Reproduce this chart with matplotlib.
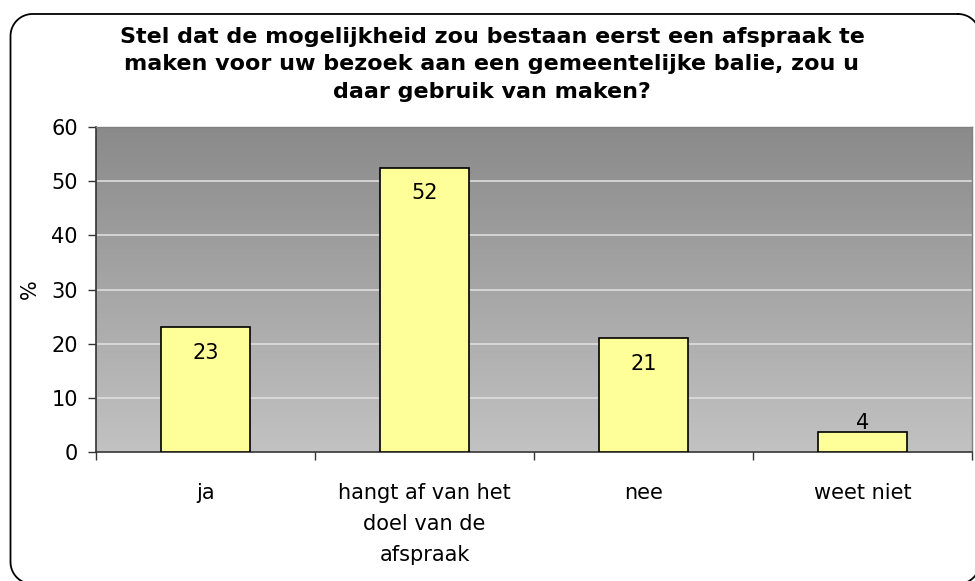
import numpy as np
import matplotlib.pyplot as plt
from matplotlib.colors import LinearSegmentedColormap
from matplotlib.lines import Line2D
from matplotlib.transforms import IdentityTransform

# data
categories = ["ja", "hangt af van het\ndoel van de\nafspraak", "nee", "weet niet"]
heights = [23, 52.5, 21, 3.7]
value_labels = ["23", "52", "21", "4"]
yticks = [0, 10, 20, 30, 40, 50, 60]
title = ("Stel dat de mogelijkheid zou bestaan eerst een afspraak te\n"
         "maken voor uw bezoek aan een gemeentelijke balie, zou u\n"
         "daar gebruik van maken?")

plt.rcParams['font.family'] = ['DejaVu Sans']

W, H = 975, 581
fig = plt.figure(figsize=(W / 100, H / 100), dpi=100)


def rounded_outline(x0, y0, x1, y1, r, n=24):
    # closed outline with round corners, pixel coords measured from the top
    pts = []
    corners = [(x1 - r, y0 + r, -90, 0), (x1 - r, y1 - r, 0, 90),
               (x0 + r, y1 - r, 90, 180), (x0 + r, y0 + r, 180, 270)]
    for cx, cy, a0, a1 in corners:
        a = np.radians(np.linspace(a0, a1, n))
        pts += list(zip(cx + r * np.cos(a), cy + r * np.sin(a)))
    pts.append(pts[0])
    xs, ys = zip(*pts)
    return np.array(xs), H - np.array(ys)


bx, by = rounded_outline(10.5, 14, 980, 584, 22)
fig.add_artist(Line2D(bx, by, transform=IdentityTransform(), color='black',
                      lw=1.3, zorder=5))

left, right, top, bottom = 96, 972, 127, 452
ax = fig.add_axes([left / W, 1 - bottom / H, (right - left) / W, (bottom - top) / H])

# grey gradient background, dark at top
grad = np.linspace(0, 1, 256).reshape(-1, 1)
cmap = LinearSegmentedColormap.from_list('g', ['#c2c2c2', '#8a8a8a'])
ax.imshow(grad, extent=[0, 1, 0, 1], transform=ax.transAxes, aspect='auto',
          cmap=cmap, origin='lower', zorder=0)

x = np.arange(len(categories))
ax.bar(x, heights, width=0.41, color='#ffff99', edgecolor='black', lw=1.2, zorder=3)

for xi, h, lab in zip(x, heights, value_labels):
    if h > 10:
        ax.text(xi, h - 4.7, lab, ha='center', va='center', fontsize=15, zorder=4)
    else:
        ax.text(xi, h + 1.6, lab, ha='center', va='center', fontsize=15, zorder=4)

ax.set_xlim(-0.5, len(categories) - 0.5)
ax.set_ylim(0, 60)
ax.set_yticks(yticks)
ax.set_yticklabels([str(t) for t in yticks], fontsize=15)
ax.yaxis.grid(True, color='#dedede', lw=1.2, zorder=1)
ax.set_axisbelow(True)

ax.set_xticks(x)
ax.set_xticklabels(categories, fontsize=15, linespacing=1.7)
ax.tick_params(axis='x', length=0, pad=22)
ax.set_xticks(np.arange(-0.5, len(categories), 1), minor=True)
ax.tick_params(axis='x', which='minor', length=6, width=1, color='#333333')
ax.tick_params(axis='y', length=6, width=1, color='#333333', pad=7)

ax.set_ylabel('%', fontsize=15)
ax.yaxis.set_label_coords((40 - left) / (right - left), 0.5)

for side in ['left', 'bottom']:
    ax.spines[side].set_color('#333333')
    ax.spines[side].set_linewidth(1.2)
for side in ['top', 'right']:
    ax.spines[side].set_color('#808080')
    ax.spines[side].set_linewidth(1)

fig.text(492 / W, 1 - 27 / H, title, ha='center', va='top',
         fontsize=16, fontweight='bold', linespacing=1.46)

fig.savefig('out.png', dpi=100)
